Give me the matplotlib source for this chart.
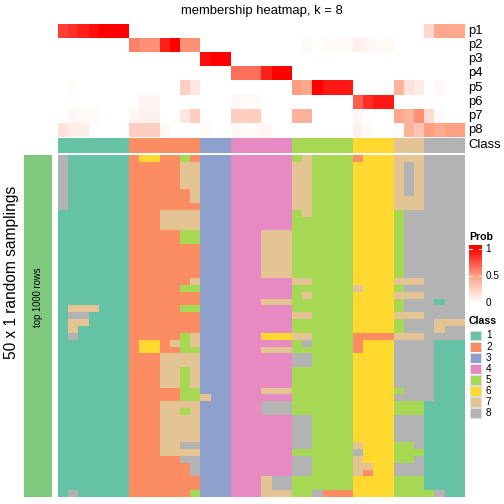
import numpy as np
import matplotlib
matplotlib.use("Agg")
import matplotlib.pyplot as plt
from matplotlib.colors import ListedColormap, LinearSegmentedColormap

plt.rcParams['font.family'] = ['Liberation Sans', 'DejaVu Sans']

# class colours (1..8)
class_colors = ['#66C2A5', '#FC8D62', '#8DA0CB', '#E78AC3',
                '#A6D854', '#FFD92F', '#E5C494', '#B3B3B3']
class_labels = ['1', '2', '3', '4', '5', '6', '7', '8']
row_names = ['p1', 'p2', 'p3', 'p4', 'p5', 'p6', 'p7', 'p8']

# consensus class of each of the 40 columns
col_class = "1111111" "2222222" "333" "444444" "555555" "6666" "777" "8888"

# membership probability per column (rows p1..p8)
p1 = [.8, .85, .9, .95, 1, 1, 1] + [0]*29 + [.2, .45, .45, .45]
p2 = [0]*7 + [.6, .55, .55, .9, 1, .55, .55] + [0]*10 + [.03, 0, .03, .03, .03, .08, .05, .03, .03] + [0]*7
p3 = [0]*14 + [.95, 1, 1] + [0]*23
p4 = [0]*17 + [.65, .65, .65, .9, 1, 1] + [0]*17
p5 = [0, .02] + [0]*10 + [.25, .12] + [0]*9 + [.5, .45, 1, .92, .92, .92] + [0]*4 + [.4, .15, .1, 0, .03, 0, 0]
p6 = [0]*8 + [.06, .06] + [0]*7 + [.03, .03, .03] + [0]*9 + [.7, .85, .92, .92] + [0]*7
p7 = [0, .04, .03, .03, 0, 0, 0, .05, .07, .07, 0, 0, .12, .25, 0, 0, 0, .25, .25, .25,
      0, 0, 0, .4, .4, 0, 0, 0, 0, .04, 0, 0, 0, .45, .4, .55, .18, .03, 0, 0]
p8 = [.15, .08, .08, 0, 0, 0, 0, .25, .25, .25, .03, 0, 0, 0, .03, 0, 0, .03, .03, .03,
      .05, 0, 0, 0, 0, 0, 0, 0, 0, .07, .03, 0, 0, .02, .4, .3, .5, .45, .5, .5]

# class assignment in each of the 50 random samplings
samplings = [
    "8111111" "2662252" "333" "444444" "575555" "2666" "777" "8888",
    "8111111" "2222277" "333" "444444" "775555" "6666" "787" "8888",
    "8111111" "2222277" "333" "444444" "775555" "6666" "787" "8888",
    "8111111" "2222277" "333" "444444" "775555" "6666" "787" "8888",
    "8111111" "2222277" "333" "444444" "775555" "6666" "787" "8888",
    "8111111" "2222227" "333" "444444" "775555" "6666" "787" "8888",
    "8111111" "2222227" "333" "444444" "775555" "6666" "777" "8888",
    "8111111" "2222222" "333" "444444" "775555" "6666" "777" "8888",
    "1111111" "2227777" "333" "444444" "575555" "6666" "588" "8888",
    "1111111" "2227777" "333" "444444" "555555" "6666" "588" "8888",
    "1111111" "2227777" "333" "444444" "555555" "6666" "588" "8888",
    "1111111" "2222255" "333" "444777" "555555" "6666" "588" "8888",
    "1111111" "2222255" "333" "444777" "555555" "6666" "588" "8888",
    "1111111" "2222222" "333" "444777" "555555" "6666" "588" "8888",
    "1111111" "2222222" "333" "444777" "555555" "6666" "588" "8888",
    "1111111" "2222222" "333" "444777" "555555" "6666" "588" "8888",
    "1111111" "2222222" "333" "444777" "555555" "6666" "588" "8888",
    "1111111" "2222222" "333" "444777" "555555" "6666" "588" "8888",
    "1111111" "2222227" "333" "444444" "775555" "6666" "777" "8888",
    "1111111" "2222255" "333" "444444" "555555" "7666" "588" "8888",
    "1111111" "2222222" "333" "444444" "575555" "6666" "777" "8888",
    "1111111" "2222222" "333" "444777" "555555" "6666" "588" "8188",
    "1777111" "2222255" "333" "444444" "555555" "6666" "588" "8888",
    "1881111" "2222222" "333" "444444" "775555" "6666" "777" "8888",
    "1771111" "2222222" "333" "444444" "555555" "6666" "588" "8777",
    "1711111" "2222222" "333" "444444" "555555" "6666" "588" "8788",
    "1811111" "2222257" "333" "444666" "775555" "2222" "777" "8888",
    "1111111" "2662757" "333" "444444" "585555" "2666" "888" "8111",
    "1111111" "2662255" "333" "444777" "555555" "2666" "888" "8111",
    "1111111" "2227777" "333" "444444" "885555" "6666" "888" "8111",
    "1111111" "2227777" "333" "444444" "885555" "6666" "888" "8111",
    "1111111" "2227757" "333" "444444" "555555" "6666" "888" "8111",
    "1111111" "2227757" "333" "444444" "555555" "6666" "888" "8111",
    "1111111" "2227757" "333" "444444" "555555" "6666" "888" "8111",
    "1111111" "2222255" "333" "444777" "555555" "6666" "588" "8111",
    "1111111" "2222255" "733" "444444" "555555" "6666" "888" "8111",
    "1111111" "2227777" "333" "444888" "555555" "6666" "555" "1111",
    "1111111" "2227757" "333" "444888" "555555" "6666" "555" "1111",
    "1111111" "2227777" "333" "444444" "885555" "6666" "888" "1111",
    "1111111" "2227777" "333" "444444" "885555" "6666" "888" "1111",
    "1111111" "2227777" "333" "444444" "885555" "6666" "888" "1111",
    "1111111" "2227777" "333" "444444" "885555" "6666" "888" "1111",
    "1111111" "2227788" "333" "444444" "885555" "7666" "558" "1111",
    "1111111" "2227777" "333" "444444" "555555" "8666" "555" "1111",
    "1111111" "2222288" "333" "444444" "885555" "7666" "558" "1111",
    "1111111" "2222228" "333" "444444" "885555" "7766" "888" "1111",
    "1111111" "2222228" "333" "444444" "885555" "7266" "888" "1111",
    "1111111" "2222222" "333" "444788" "555555" "6666" "555" "1111",
    "1111111" "2222222" "333" "444788" "555555" "6666" "555" "1111",
    "1811111" "2222225" "333" "444777" "558222" "6666" "555" "5811",
]

W = H = 504
fig = plt.figure(figsize=(7, 7), dpi=72)


def ax_px(x0, y0, x1, y1):
    return fig.add_axes([x0 / W, 1 - y1 / H, (x1 - x0) / W, (y1 - y0) / H])


def clean(ax):
    ax.set_xticks([])
    ax.set_yticks([])
    for s in ax.spines.values():
        s.set_visible(False)


class_cmap = ListedColormap(class_colors)
prob_cmap = LinearSegmentedColormap.from_list('prob', ['#FFFFFF', '#FF9F82', '#FF0000'])

X0, X1 = 58, 465

# membership heatmap
prob = np.array([p1, p2, p3, p4, p5, p6, p7, p8])
ax = ax_px(X0, 24, X1, 137)
ax.imshow(prob, cmap=prob_cmap, vmin=0, vmax=1, aspect='auto', interpolation='nearest')
clean(ax)
for i, name in enumerate(row_names):
    ax.text(1.008, 1 - (i + 0.5) / 8, name, transform=ax.transAxes,
            ha='left', va='center', fontsize=13)

# class annotation
cls = np.array([[int(c) - 1 for c in col_class]])
ax = ax_px(X0, 138, X1, 153)
ax.imshow(cls, cmap=class_cmap, vmin=-0.5, vmax=7.5, aspect='auto', interpolation='nearest')
clean(ax)
ax.text(1.008, 0.5, 'Class', transform=ax.transAxes, ha='left', va='center', fontsize=13)

fig.text(262 / W, 1 - 11 / H, 'membership heatmap, k = 8', ha='center', va='center', fontsize=13)

# random samplings
mat = np.array([[int(c) - 1 for c in row] for row in samplings])
ax = ax_px(X0, 155, X1, 497)
ax.imshow(mat, cmap=class_cmap, vmin=-0.5, vmax=7.5, aspect='auto', interpolation='nearest')
clean(ax)

# left annotation
ax = ax_px(24, 155, 52, 497)
ax.set_facecolor('#7FC97F')
clean(ax)
fig.text(38 / W, 1 - 297 / H, 'top 1000 rows', rotation=90, ha='center', va='center', fontsize=9.5)
fig.text(11.5 / W, 1 - 272 / H, '50 x 1 random samplings', rotation=90,
         ha='center', va='center', fontsize=15.5)

# Prob legend
fig.text(469 / W, 1 - 237 / H, 'Prob', ha='left', va='center', fontsize=10.5, fontweight='bold')
ax = ax_px(469, 245, 482, 303)
grad = np.linspace(1.07, 0, 100).reshape(-1, 1)
ax.imshow(grad, cmap=prob_cmap, vmin=0, vmax=1, aspect='auto', extent=[0, 1, 0, 1.07])
ax.set_xlim(0, 1)
ax.set_ylim(0, 1.07)
for v in [0.5, 1]:
    ax.plot([0, 0.25], [v, v], color='white', lw=1)
    ax.plot([0.75, 1], [v, v], color='white', lw=1)
clean(ax)
for v, lab in [(1, '1'), (0.5, '0.5'), (0, '0')]:
    ax.text(1.25, v, lab, transform=ax.transData, ha='left', va='center', fontsize=10)

# Class legend
fig.text(469 / W, 1 - 321 / H, 'Class', ha='left', va='center', fontsize=10.5, fontweight='bold')
for i, (c, lab) in enumerate(zip(class_colors, class_labels)):
    y0 = 330 + i * 11.1
    lax = ax_px(469, y0, 482, y0 + 11.1)
    lax.add_patch(plt.Rectangle((0.08, 0.06), 0.84, 0.88, facecolor=c,
                                edgecolor='#DDDDDD', lw=1, transform=lax.transAxes))
    clean(lax)
    fig.text(486 / W, 1 - (y0 + 5.5) / H, lab, ha='left', va='center', fontsize=10)

fig.savefig('out.png', dpi=72)
